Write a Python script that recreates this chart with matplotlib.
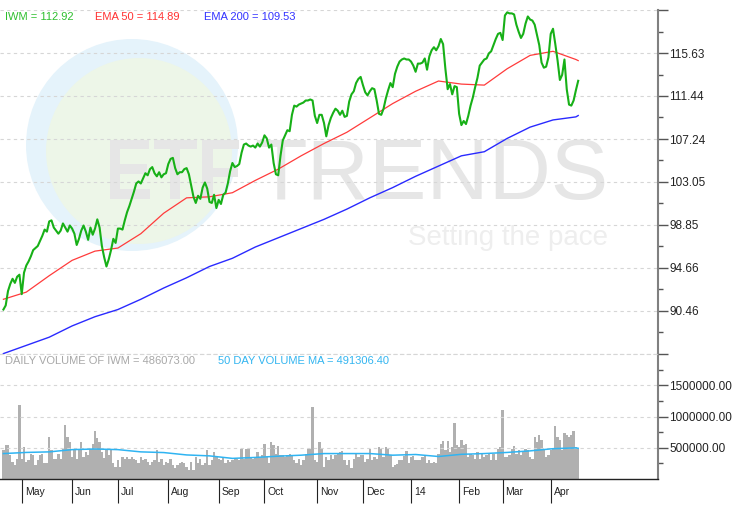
import numpy as np
import pandas as pd
import matplotlib
import matplotlib.pyplot as plt
from matplotlib.patches import Circle, PathPatch
from matplotlib.textpath import TextPath
from matplotlib.font_manager import FontProperties
from matplotlib.ticker import FixedLocator, FormatStrFormatter
import matplotlib.transforms as mtransforms

matplotlib.use("Agg")
plt.rcParams["font.family"] = ["Liberation Sans", "DejaVu Sans"]

# ── Data ──────────────────────────────────────────────────────────────────────
holidays = ["2013-05-27", "2013-07-04", "2013-09-02", "2013-11-28",
            "2013-12-25", "2014-01-01", "2014-01-20", "2014-02-17"]
dates = pd.bdate_range("2013-04-19", "2014-04-17")
dates = dates[~dates.isin(pd.to_datetime(holidays))]

# IWM daily close
iwm = [
    90.6, 91.0, 92.4, 93.1, 93.6, 93.2, 93.8, 94.0, 92.1, 94.2,
    94.9, 95.3, 95.8, 96.4, 96.6, 96.8, 97.3, 97.8, 98.4, 98.2,
    99.2, 99.3, 98.6, 98.3, 98.0, 98.3, 99.0, 98.6, 98.2, 98.8,
    98.5, 98.0, 96.9, 97.5, 98.3, 98.8, 98.2, 97.4, 98.6, 97.9,
    98.5, 99.4, 98.6, 96.8, 95.7, 94.8, 95.5, 96.4, 97.5, 97.1,
    98.5, 98.5, 98.4, 99.3, 100.1, 100.7, 101.4, 102.1, 102.9, 103.1,
    102.9, 103.4, 103.9, 103.7, 104.3, 104.5, 103.9, 103.6, 104.0, 103.5,
    103.8, 103.9, 104.8, 105.3, 105.4, 104.4, 103.8, 104.0, 104.0, 104.3,
    104.4, 103.8, 102.7, 101.6, 101.0, 101.7, 101.4, 102.5, 103.0, 102.4,
    101.1, 101.0, 101.8, 100.5, 101.3, 100.9, 101.8, 102.0, 102.9, 104.1,
    104.9, 104.5, 104.6, 104.8, 105.9, 106.7, 106.8, 106.6, 106.5, 106.6,
    106.4, 106.8, 106.5, 106.9, 107.6, 107.3, 106.4, 106.7, 104.9, 103.8,
    103.7, 105.6, 107.1, 107.6, 108.1, 108.0, 109.6, 110.5, 110.4, 110.6,
    110.7, 110.8, 111.0, 111.0, 111.1, 111.0, 109.5, 108.8, 109.6, 109.6,
    108.8, 107.5, 108.6, 109.3, 109.8, 110.2, 110.0, 109.6, 110.0, 109.4,
    109.5, 110.9, 111.6, 111.9, 112.7, 113.1, 113.3, 112.5, 111.8, 111.5,
    111.9, 112.2, 112.1, 111.0, 109.7, 109.6, 110.2, 111.2, 112.0, 112.7,
    112.3, 113.6, 114.3, 114.8, 115.0, 115.1, 115.0, 115.0, 114.8, 114.4,
    113.8, 114.6, 114.6, 114.7, 115.1, 114.0, 115.3, 115.9, 116.2, 115.9,
    116.3, 117.0, 116.5, 114.1, 112.1, 112.6, 111.6, 112.4, 112.3, 109.7,
    108.6, 109.0, 108.7, 109.5, 110.5, 111.3, 112.3, 113.2, 114.4, 114.7,
    115.0, 115.1, 115.6, 115.8, 116.4, 117.0, 117.5, 117.6, 116.9, 119.3,
    119.6, 119.5, 119.5, 119.4, 118.4, 117.7, 117.1, 117.5, 118.5, 119.2,
    118.9, 118.8, 118.4, 117.4, 116.4, 114.7, 114.2, 114.3, 115.2, 117.5,
    118.0, 116.5, 114.9, 113.0, 113.5, 115.0, 112.1, 110.6, 110.5, 111.0,
    112.0, 112.92,
]

# moving averages, read every 10 sessions
ma_idx = [0, 10, 20, 30, 40, 50, 60, 70, 80, 90, 100, 110, 120, 130, 140,
          150, 160, 170, 180, 190, 200, 210, 220, 230, 240, 250, 251]
ema50 = [91.6, 92.3, 93.9, 95.4, 96.3, 96.6, 98.0, 100.0, 101.5, 101.6,
         102.0, 103.2, 104.3, 105.6, 106.8, 107.9, 109.3, 110.7, 111.9,
         112.9, 112.6, 112.5, 114.1, 115.4, 115.8, 115.0, 114.89]
ema200 = [86.3, 87.1, 87.9, 89.0, 89.9, 90.6, 91.6, 92.7, 93.7, 94.8,
          95.6, 96.7, 97.6, 98.5, 99.4, 100.4, 101.5, 102.5, 103.6, 104.6,
          105.6, 106.0, 107.3, 108.4, 109.1, 109.4, 109.53]

# daily volume, thousands of shares
volume_k = [
    460, 540, 550, 381, 275, 222, 328, 1185, 328, 513,
    275, 302, 407, 381, 222, 302, 381, 407, 249, 249,
    672, 460, 328, 328, 407, 328, 487, 868, 672, 593,
    354, 460, 328, 487, 593, 354, 434, 381, 487, 566,
    762, 656, 593, 434, 339, 460, 381, 460, 249, 196,
    302, 196, 354, 328, 354, 328, 354, 328, 302, 249,
    354, 302, 328, 275, 222, 275, 302, 460, 275, 328,
    222, 275, 249, 328, 222, 169, 222, 249, 275, 249,
    196, 143, 275, 143,
    354, 249, 328, 222, 249, 460, 222, 302, 434, 354,
    328, 302, 354, 249, 302, 275, 302, 328, 328, 302,
    476, 328, 487, 476, 354, 328, 354, 434, 354, 381,
    566, 354, 249, 593, 540, 407, 529, 392, 381, 354,
    381, 407, 381, 302, 249, 328, 222, 302, 407, 487,
    487, 1160, 302, 275, 593, 476, 196, 354, 302, 381,
    328, 381, 407, 434, 445, 302, 222, 302, 169, 328,
    407, 354, 392, 381, 275, 328, 476, 302, 354, 328,
    513, 487, 354,
    513, 487, 381, 196, 222, 233, 302, 302, 370, 445,
    249, 354, 370, 302, 302, 302, 354, 381, 249, 302,
    249, 275, 249, 407, 566, 603, 460, 603, 434, 513,
    900, 540, 513, 619, 540, 566, 354, 407, 392, 328,
    434, 328, 407, 354, 381, 407, 302, 407, 302, 487,
    513, 1111, 354, 354, 381, 487, 529, 407, 460, 381,
    434, 487, 460, 354, 328, 672, 593, 698, 619, 487,
    354, 381, 460, 487, 846, 672, 619, 460, 741, 709,
    672, 709, 762, 513, 486.073,
]
vol_ma_k = [407, 425, 434, 470, 480, 470, 434, 423, 385, 370, 330, 345,
            365, 381, 407, 407, 407, 381, 392, 360, 395, 407, 425, 450,
            485, 498, 491.3064]

price_ticks = [90.46, 94.66, 98.85, 103.05, 107.24, 111.44, 115.63]
vol_ticks = [500000, 1000000, 1500000]

# ── Derived ───────────────────────────────────────────────────────────────────
x = np.arange(len(dates))
volume = np.array(volume_k) * 1000
vol_ma = np.array(vol_ma_k) * 1000
month_start = [i for i in range(1, len(dates)) if dates[i].month != dates[i - 1].month]
month_lbl = [dates[i].strftime("%y") if dates[i].month == 1 else dates[i].strftime("%b")
             for i in month_start]

W, H = 741, 505
xlim = (-1.49, 285.85)
step = price_ticks[1] - price_ticks[0]
pt_all = [price_ticks[0] - step] + price_ticks + [price_ticks[-1] + step]
pt_minor = [(a + b) / 2 for a, b in zip(pt_all[:-1], pt_all[1:])]

fig = plt.figure(figsize=(W / 100, H / 100), dpi=100)

# background / watermark in pixel coordinates
bg = fig.add_axes([0, 0, 1, 1], zorder=0)
bg.set_xlim(0, W)
bg.set_ylim(H, 0)
bg.axis("off")
bg.add_patch(Circle((132, 145), 106, color="#e5f3fb", lw=0))
bg.add_patch(Circle((139, 151), 93, color="#edf6e8", lw=0))
# bold "ETF", squeezed horizontally like the logo
etf = TextPath((0, 0), "ETF", size=86, prop=FontProperties(family="Liberation Sans", weight="bold"))
etf = mtransforms.Affine2D().scale(0.84, -1).translate(105, 199).transform_path(etf)
bg.add_patch(PathPatch(etf, color="#e6e6e6", lw=0))
bg.text(608, 199, "TRENDS", fontsize=62, color="#e6e6e6", ha="right", va="baseline")
bg.text(608, 245, "Setting the pace", fontsize=20, color="#eeeeee", ha="right", va="baseline")

# legends
bg.text(5, 17, "IWM = 112.92", fontsize=8, color="#2fbf2f", va="center")
bg.text(95, 17, "EMA 50 = 114.89", fontsize=8, color="#ff3333", va="center")
bg.text(204, 17, "EMA 200 = 109.53", fontsize=8, color="#3333ff", va="center")
bg.text(5, 361, "DAILY VOLUME OF IWM = 486073.00", fontsize=8, color="#a8a8a8", va="center")
bg.text(218, 361, "50 DAY VOLUME MA = 491306.40", fontsize=8, color="#33b5f0", va="center")

# ── Price panel ───────────────────────────────────────────────────────────────
ax = fig.add_axes([0, 1 - 354 / H, 658 / W, 344 / H], zorder=2)
ax.patch.set_alpha(0)
ax.plot(x[ma_idx], ema200, color="#2a2aff", lw=1.0)
ax.plot(x[ma_idx], ema50, color="#ff3b3b", lw=0.9)
ax.plot(x, iwm, color="#17b017", lw=1.5)
ax.set_xlim(*xlim)
ax.set_ylim(pt_all[0], pt_all[-1])
ax.set_xticks([])
ax.yaxis.tick_right()
ax.yaxis.set_major_locator(FixedLocator(pt_all))
ax.set_yticklabels([""] + [f"{v:.2f}" for v in price_ticks] + [""])
ax.yaxis.set_minor_locator(FixedLocator(pt_minor))
ax.tick_params(axis="y", which="major", length=7, width=1, color="#555555",
               labelsize=8.5, labelcolor="#222222", pad=1)
ax.tick_params(axis="y", which="minor", length=3.5, width=1, color="#555555")
ax.grid(axis="y", which="major", color="#d6d6d6", linestyle=(0, (3, 3)), lw=0.8)
for s in ["left", "top", "bottom"]:
    ax.spines[s].set_visible(False)
ax.spines["right"].set_color("#808080")
ax.spines["right"].set_linewidth(1.5)

# ── Volume panel ──────────────────────────────────────────────────────────────
axv = fig.add_axes([0, 1 - 479 / H, 658 / W, 125 / H], zorder=2)
axv.patch.set_alpha(0)
axv.bar(x, volume, width=1.0, color="#b0b0b0", lw=0)
axv.plot(x[ma_idx], vol_ma, color="#2fb4f2", lw=1.1)
axv.set_xlim(*xlim)
axv.set_ylim(0, 2000000)
axv.yaxis.tick_right()
axv.yaxis.set_major_locator(FixedLocator(vol_ticks))
axv.yaxis.set_major_formatter(FormatStrFormatter("%.2f"))
axv.yaxis.set_minor_locator(FixedLocator([250000, 750000, 1250000, 1750000]))
axv.tick_params(axis="y", which="major", length=7, width=1, color="#555555",
                labelsize=8.5, labelcolor="#222222", pad=1)
axv.tick_params(axis="y", which="minor", length=3.5, width=1, color="#555555")
axv.grid(axis="y", which="major", color="#d6d6d6", linestyle=(0, (3, 3)), lw=0.8)
axv.spines["left"].set_visible(False)
axv.spines["top"].set_color("#d6d6d6")
axv.spines["top"].set_linestyle((0, (3, 3)))
axv.spines["top"].set_linewidth(0.8)
axv.spines["right"].set_color("#808080")
axv.spines["right"].set_linewidth(1.5)
axv.spines["bottom"].set_color("#222222")
axv.spines["bottom"].set_linewidth(1.0)

axv.set_xticks(month_start)
axv.set_xticklabels([""] * len(month_start))
axv.tick_params(axis="x", length=17, width=0.8, color="#222222", direction="out")
trans = mtransforms.blended_transform_factory(axv.transData, axv.transAxes)
for i, lbl in zip(month_start, month_lbl):
    axv.text(i + 1.3, -0.105, lbl, transform=trans, fontsize=7.5,
             color="#222222", va="center", ha="left")

fig.savefig("out.png", dpi=100)
